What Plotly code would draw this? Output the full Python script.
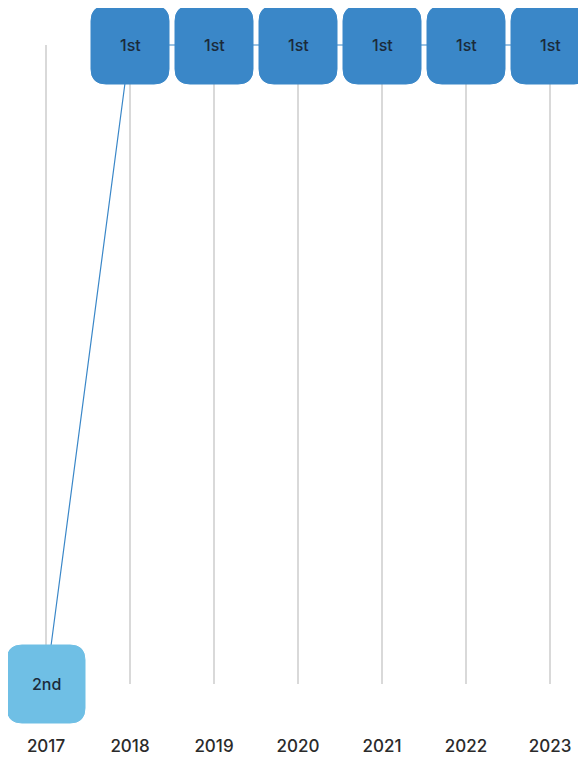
import plotly.graph_objects as go

years = [2017, 2018, 2019, 2020, 2021, 2022, 2023]
ranks = [2, 1, 1, 1, 1, 1, 1]
rank_labels = ["2nd", "1st", "1st", "1st", "1st", "1st", "1st"]
box_colors = {1: "#3a87c8", 2: "#6fbfe5"}

# page has an 8px body margin, so the figure is drawn 8px in from the corner
OFF = 8
W, H = 586 - OFF, 759 - OFF
px_per_year = 84
x0 = 2017 - (46 - OFF) / px_per_year
x1 = x0 + W / px_per_year

# vertical placement (pixels from figure top) of rank 1 and rank 2 centres
top_px, bot_px = 45 - OFF, 684 - OFF
px_per_rank = bot_px - top_px
y2_range = [2 + (H - bot_px) / px_per_rank, 1 - top_px / px_per_rank]

fig = go.Figure()
# invisible helper so the gridline subplot exists
fig.add_trace(go.Scatter(x=[years[0]], y=[0.5], mode="markers",
                         marker=dict(opacity=0), hoverinfo="skip",
                         showlegend=False, xaxis="x", yaxis="y"))
fig.add_trace(go.Scatter(
    x=years, y=ranks, mode="lines",
    line=dict(color="#3a87c8", width=1.2),
    hoverinfo="skip", showlegend=False, xaxis="x2", yaxis="y2",
))

h, r = 39, 15
path = (f"M {-h+r},{-h} L {h-r},{-h} Q {h},{-h} {h},{-h+r} L {h},{h-r} "
        f"Q {h},{h} {h-r},{h} L {-h+r},{h} Q {-h},{h} {-h},{h-r} "
        f"L {-h},{-h+r} Q {-h},{-h} {-h+r},{-h} Z")

for yr, rk, lab in zip(years, ranks, rank_labels):
    fig.add_shape(
        type="path", path=path,
        xref="x2", yref="y2", xsizemode="pixel", ysizemode="pixel",
        xanchor=yr, yanchor=rk,
        fillcolor=box_colors[rk], line=dict(color=box_colors[rk], width=1),
        layer="above",
    )
    fig.add_annotation(
        x=yr, y=rk, xref="x2", yref="y2", text=lab, showarrow=False,
        font=dict(family="Inter, Roboto, sans-serif", size=16, color="#1b2a3a",
                  weight=500),
    )

fig.update_layout(
    width=W, height=H,
    margin=dict(l=0, r=0, t=0, b=0, autoexpand=False),
    paper_bgcolor="white", plot_bgcolor="rgba(0,0,0,0)",
    font=dict(family="Inter, Roboto, sans-serif"),
    xaxis=dict(
        domain=[0, 1], anchor="y",
        range=[x0, x1], tickvals=years, ticktext=[str(y) for y in years],
        showgrid=True, gridcolor="#d9d9d9", gridwidth=1.5,
        zeroline=False, showline=False, ticks="", automargin=False,
        ticklabelstandoff=50,
        tickfont=dict(family="Inter, Roboto, sans-serif", size=17,
                      color="#2b2b2b", weight=500),
    ),
    yaxis=dict(
        domain=[1 - bot_px / H, 1 - top_px / H], anchor="x",
        range=[0, 1], showgrid=False, zeroline=False, showline=False,
        showticklabels=False, ticks="", automargin=False,
    ),
    xaxis2=dict(
        domain=[0, 1], anchor="y2", range=[x0, x1],
        visible=False, showgrid=False, automargin=False,
    ),
    yaxis2=dict(
        domain=[0, 1], anchor="x2", range=y2_range,
        visible=False, showgrid=False, automargin=False,
    ),
)

fig.write_html("out.html")
